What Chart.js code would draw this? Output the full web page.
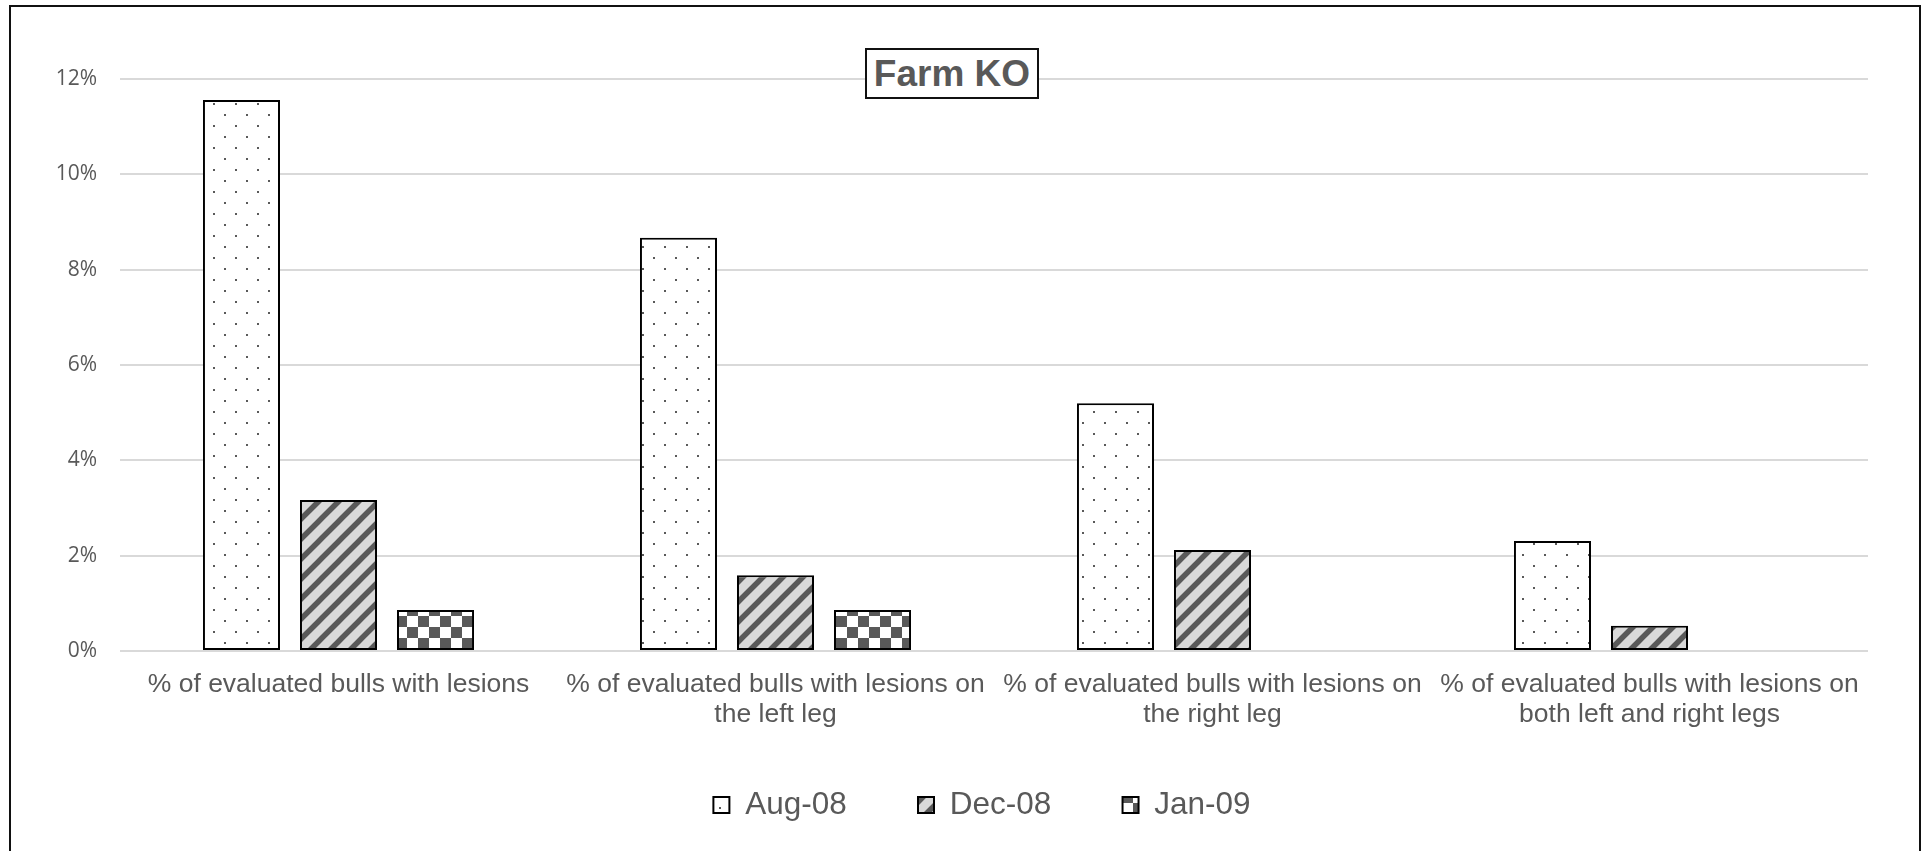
<!DOCTYPE html>
<html lang="en">
<head>
    <meta charset="UTF-8">
    <title>Farm KO</title>
    <script src="https://cdn.jsdelivr.net/npm/chart.js@4.4.0/dist/chart.umd.min.js"></script>
    <style>
        html, body {
            margin: 0;
            padding: 0;
            background: #ffffff;
            overflow: hidden;
        }
        .wrap {
            position: relative;
            width: 1924px;
            height: 851px;
        }
        #chart {
            position: absolute;
            left: 0;
            top: 0;
        }
        .frame {
            position: absolute;
            left: 9px;
            top: 5px;
            width: 1912px;
            height: 900px;
            box-sizing: border-box;
            border: 2px solid #111;
            pointer-events: none;
        }
        .chart-title {
            position: absolute;
            left: 865px;
            top: 48px;
            width: 174px;
            height: 51px;
            box-sizing: border-box;
            border: 2px solid #111;
            background: #fff;
            color: #595959;
            font-family: "Liberation Sans", Arial, sans-serif;
            font-weight: bold;
            font-size: 37px;
            line-height: 47px;
            text-align: center;
        }
    </style>
</head>
<body>
<div class="wrap">
    <canvas id="chart" width="1924" height="851"></canvas>
    <div class="frame"></div>
    <div class="chart-title">Farm KO</div>
</div>

<script>
    // values in percent
    const categories = [
        ['% of evaluated bulls with lesions'],
        ['% of evaluated bulls with lesions on', 'the left leg'],
        ['% of evaluated bulls with lesions on', 'the right leg'],
        ['% of evaluated bulls with lesions on', 'both left and right legs']
    ];
    const seriesNames = ['Aug-08', 'Dec-08', 'Jan-09'];
    const aug08 = [11.56, 8.67, 5.20, 2.31];
    const dec08 = [3.17, 1.59, 2.12, 0.53];
    const jan09 = [0.86, 0.86, 0, 0];
    const yTicks = [0, 2, 4, 6, 8, 10, 12];

    const dark = '#595959';
    const legendGap = '       '; // widens the space between legend entries

    function makePattern(size, paint) {
        const c = document.createElement('canvas');
        c.width = size;
        c.height = size;
        const g = c.getContext('2d');
        paint(g, size);
        return document.getElementById('chart').getContext('2d').createPattern(c, 'repeat');
    }

    // small dots
    const dots = makePattern(22, (g, s) => {
        g.fillStyle = '#fff';
        g.fillRect(0, 0, s, s);
        g.fillStyle = dark;
        g.fillRect(4, 4, 2, 2);
        g.fillRect(15, 15, 2, 2);
    });

    // wide upward diagonal
    const stripes = makePattern(20, (g, s) => {
        g.fillStyle = '#d9d9d9';
        g.fillRect(0, 0, s, s);
        g.strokeStyle = dark;
        g.lineWidth = 5.5;
        g.beginPath();
        g.moveTo(-s, s); g.lineTo(s, -s);
        g.moveTo(0, 2 * s); g.lineTo(2 * s, 0);
        g.moveTo(-s / 2, s + s / 2); g.lineTo(s + s / 2, -s / 2);
        g.stroke();
    });

    // checkerboard
    const checker = makePattern(22, (g, s) => {
        g.fillStyle = '#fff';
        g.fillRect(0, 0, s, s);
        g.fillStyle = dark;
        g.fillRect(0, 0, 11, 11);
        g.fillRect(11, 11, 11, 11);
    });

    const fills = [dots, stripes, checker];
    const values = [aug08, dec08, jan09];

    new Chart(document.getElementById('chart'), {
        type: 'bar',
        data: {
            labels: categories,
            datasets: seriesNames.map((name, i) => ({
                label: name,
                data: values[i],
                backgroundColor: fills[i],
                borderColor: '#000',
                borderWidth: 2,
                borderSkipped: false,
                barPercentage: 0.794,
                categoryPercentage: 0.666
            }))
        },
        options: {
            responsive: false,
            animation: false,
            layout: {
                padding: { left: 40, top: 79, right: 0, bottom: 20.25 }
            },
            scales: {
                x: {
                    grid: { display: false, drawTicks: false },
                    border: { display: false },
                    ticks: {
                        autoSkip: false,
                        maxRotation: 0,
                        minRotation: 0,
                        padding: 18.5,
                        color: dark,
                        font: { family: '"Liberation Sans", Arial, sans-serif', size: 26.5, lineHeight: 1.13 }
                    },
                    afterFit: scale => { scale.height = 128.25; }
                },
                y: {
                    min: 0,
                    max: 12,
                    afterBuildTicks: scale => {
                        scale.ticks = yTicks.map(v => ({ value: v }));
                    },
                    grid: { color: '#d9d9d9', lineWidth: 2, drawTicks: false },
                    border: { display: false },
                    ticks: {
                        padding: 23,
                        color: dark,
                        font: { family: '"Open Sans", sans-serif', size: 21 },
                        callback: v => v + '%'
                    },
                    afterFit: scale => { scale.width = 80; }
                },
                // empty right-hand margin so the legend centres like the original
                side: {
                    type: 'linear',
                    position: 'right',
                    min: 0,
                    max: 12,
                    grid: { display: false, drawTicks: false },
                    border: { display: false },
                    ticks: { display: false },
                    afterFit: scale => { scale.width = 56; }
                }
            },
            plugins: {
                legend: {
                    position: 'bottom',
                    labels: {
                        boxWidth: 16,
                        boxHeight: 16,
                        padding: 10,
                        color: dark,
                        font: { family: '"Liberation Sans", Arial, sans-serif', size: 31.5 },
                        generateLabels: chart => {
                            const items = Chart.defaults.plugins.legend.labels.generateLabels(chart);
                            items.forEach((item, i) => {
                                if (i < items.length - 1) item.text += legendGap;
                            });
                            return items;
                        }
                    }
                },
                tooltip: { enabled: false },
                title: { display: false }
            }
        }
    });
</script>
</body>
</html>
